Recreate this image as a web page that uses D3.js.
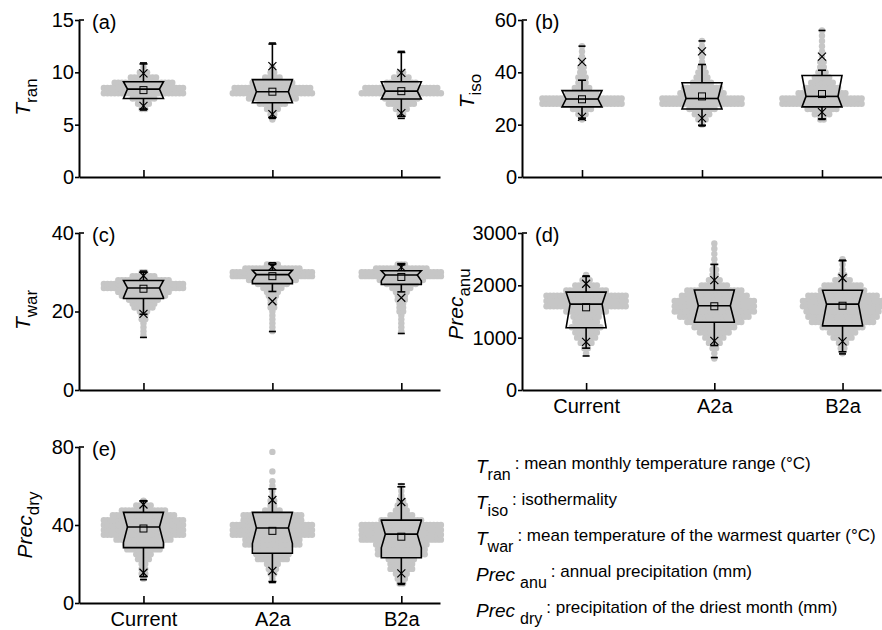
<!DOCTYPE html>
<html>
<head>
<meta charset="utf-8">
<script src="https://cdn.jsdelivr.net/npm/d3@7"></script>
<style>
  body { margin: 0; background: #fff; }
  svg { display: block; font-family: "Liberation Sans", Arial, Helvetica, sans-serif; }
  .axis .domain { stroke: #000; stroke-width: 2; }
  .axis .tick line { stroke: #000; stroke-width: 1.6; }
  .axis text { font-size: 20px; fill: #000; font-family: "Liberation Sans", Arial, Helvetica, sans-serif; }
</style>
</head>
<body>
<svg id="chart" width="882" height="630"></svg>
<script>
var categories = ["Current", "A2a", "B2a"];

// box stats per category:
// [min, whiskerLow, p1, q1, median, q3, p99, whiskerHigh, max, mean, notch half-range]
var tranBoxes = [
  [6.4, 6.5, 6.8, 7.5, 8.4, 9.1, 9.9, 10.8, 10.9, 8.3, 1.0],
  [5.6, 5.7, 6.0, 7.1, 8.15, 9.3, 10.6, 12.7, 12.8, 8.15, 1.2],
  [5.6, 5.8, 6.1, 7.45, 8.2, 9.1, 9.95, 11.9, 12.0, 8.2, 1.0]
];
var isoBoxes = [
  [22, 22.5, 23, 26.8, 29.8, 33, 44, 37, 50, 29.7, 3.5],
  [19.5, 19.8, 22.5, 26, 30, 36, 48, 43, 52, 30.8, 6],
  [22, 22.2, 24.8, 26.8, 30.8, 38.8, 46, 40.8, 56, 31.7, 8]
];
var warBoxes = [
  [13.4, 19.3, 19.4, 23.3, 26, 27.9, 29.1, 30, 30.3, 25.8, 2.5],
  [14.9, 25.1, 22.6, 27.1, 29.4, 30.5, 31.4, 32, 32.4, 29, 1.5],
  [14.4, 25.0, 23.5, 26.9, 29.3, 30.4, 31.3, 31.9, 32.2, 28.8, 1.5]
];
var anuBoxes = [
  [650, 800, 920, 1190, 1640, 1870, 2030, 2170, 2180, 1580, 450],
  [620, 850, 940, 1295, 1610, 1910, 2100, 2400, null, 1600, 300],
  [690, 730, 930, 1225, 1640, 1905, 2140, 2470, 2480, 1610, 400]
];
var dryBoxes = [
  [12, 13.5, 15.5, 28.4, 39, 46.5, 50.5, 52.3, 52.5, 38.2, 8],
  [10.5, 11, 16.5, 25.5, 38.5, 46.5, 52.8, 58.5, null, 37, 8],
  [9.5, 10, 15.2, 23.2, 35.3, 42.5, 51.8, 59.6, 61, 34, 7]
];

// grey point clouds: [value, number of points in that row]
var tranCloud = [
  [[6.5,2],[7,4],[7.5,7],[8,23],[8.5,23],[9,17],[9.5,8],[10,3],[10.5,1]],
  [[5.5,1],[6,2],[6.5,4],[7,8],[7.5,14],[8,23],[8.5,22],[9,12],[9.5,5],[10,2],[10.5,1]],
  [[6,2],[6.5,4],[7,8],[7.5,10],[8,23],[8.5,21],[9,9],[9.5,5],[10,2]]
];
var isoCloud = [
  [[22,1],[24,3],[26,6],[28,23],[30,23],[32,9],[34,5],[36,3],[38,3],[40,2],[42,2],[44,1],[46,1],[48,1],[50,1]],
  [[20,1],[22,3],[24,5],[26,8],[28,23],[30,23],[32,13],[34,11],[36,6],[38,4],[40,3],[42,2],[44,1],[46,1],[48,1],[50,1],[52,1]],
  [[22,2],[24,5],[26,9],[28,23],[30,23],[32,14],[34,10],[36,7],[38,5],[40,3],[42,2],[44,2],[46,1],[48,1],[50,1],[52,1],[54,1],[56,1]]
];
var warCloud = [
  [[14,1],[15,1],[16,1],[17,1],[18,2],[19,2],[20,3],[21,6],[22,7],[23,9],[24,13],[25,15],[26,23],[27,23],[28,15],[29,7],[30,2]],
  [[15,1],[16,1],[17,1],[18,1],[19,1],[20,1],[21,2],[22,2],[23,2],[24,3],[25,4],[26,6],[27,9],[28,14],[29,23],[30,23],[31,16],[32,4]],
  [[15,1],[16,1],[17,1],[18,1],[19,1],[20,2],[21,2],[22,2],[23,3],[24,3],[25,4],[26,6],[27,9],[28,13],[29,23],[30,23],[31,15],[32,3]]
];
var anuCloud = [
  [[700,1],[800,2],[900,4],[1000,6],[1100,7],[1200,9],[1300,7],[1400,8],[1500,12],[1600,23],[1700,23],[1800,23],[1900,12],[2000,7],[2100,3],[2200,1]],
  [[600,1],[700,1],[800,2],[900,4],[1000,6],[1100,9],[1200,12],[1300,16],[1400,20],[1500,23],[1600,23],[1700,23],[1800,19],[1900,16],[2000,8],[2100,4],[2200,2],[2300,2],[2400,1],[2500,1],[2600,1],[2700,1],[2800,1]],
  [[700,1],[800,2],[900,3],[1000,6],[1100,8],[1200,12],[1300,18],[1400,20],[1500,21],[1600,23],[1700,23],[1800,20],[1900,13],[2000,11],[2100,5],[2200,2],[2300,1],[2400,1],[2500,1]]
];
var dryCloud = [
  [[12.5,1],[15,2],[17.5,2],[20,2],[22.5,4],[25,5],[27.5,10],[30,11],[32.5,16],[35,23],[37.5,23],[40,23],[42.5,23],[45,18],[47.5,13],[50,5],[52.5,1]],
  [[12.5,1],[15,2],[17.5,3],[20,4],[22.5,9],[25,10],[27.5,10],[30,16],[32.5,16],[35,23],[37.5,23],[40,23],[42.5,17],[45,17],[47.5,5],[50,2],[52.5,2],[55,1],[57.5,1],[60,1],[62.5,1],[67.5,1],[77.5,1]],
  [[10,2],[12.5,3],[15,4],[17.5,7],[20,7],[22.5,8],[25,14],[27.5,14],[30,15],[32.5,23],[35,23],[37.5,23],[40,23],[42.5,12],[45,7],[47.5,4],[50,3],[52.5,2],[55,1],[57.5,1],[60,1]]
];

var tranTicks = [0, 5, 10, 15];
var isoTicks = [0, 20, 40, 60];
var warTicks = [0, 20, 40];
var anuTicks = [0, 1000, 2000, 3000];
var dryTicks = [0, 40, 80];

var legendItems = [
  {sym: "T", sub: "ran", text: ": mean monthly temperature range (°C)"},
  {sym: "T", sub: "iso", text: ": isothermality"},
  {sym: "T", sub: "war", text: ": mean temperature of the warmest quarter (°C)"},
  {sym: "Prec", sub: "anu", text: ": annual precipitation (mm)"},
  {sym: "Prec", sub: "dry", text: ": precipitation of the driest month (mm)"}
];

var statKeys = ["min","wlo","p1","q1","med","q3","p99","whi","max","mean","notch"];
function toStats(arr) {
  return arr.map(function(r) { var o = {}; statKeys.forEach(function(k, i) { o[k] = r[i]; }); return o; });
}

var panels = [
  {tag: "(a)", sym: "T", sub: "ran", boxes: tranBoxes, cloud: tranCloud, ticks: tranTicks,
   xRange: [79, 440], xDomain: [0.5, 3.3], yRange: [177, 20], labels: false, titleX: 30, titleY: 97},
  {tag: "(b)", sym: "T", sub: "iso", boxes: isoBoxes, cloud: isoCloud, ticks: isoTicks,
   xRange: [522, 882], xDomain: [0.5, 3.5], yRange: [177, 20], labels: false, titleX: 474, titleY: 91},
  {tag: "(c)", sym: "T", sub: "war", boxes: warBoxes, cloud: warCloud, ticks: warTicks,
   xRange: [79, 440], xDomain: [0.5, 3.3], yRange: [390, 233], labels: false, titleX: 30, titleY: 310},
  {tag: "(d)", sym: "Prec", sub: "anu", boxes: anuBoxes, cloud: anuCloud, ticks: anuTicks,
   xRange: [522, 881], xDomain: [0.5, 3.3], yRange: [390, 233], labels: true, titleX: 463, titleY: 304},
  {tag: "(e)", sym: "Prec", sub: "dry", boxes: dryBoxes, cloud: dryCloud, ticks: dryTicks,
   xRange: [79, 440], xDomain: [0.5, 3.3], yRange: [603, 447], labels: true, titleX: 32, titleY: 525}
];

var dotStep = 3.6, dotR = 3.2, dotColor = "#c6c6c6";
var boxHalf = 20, notchIn = 4;

var svg = d3.select("#chart");
svg.append("rect").attr("width", 882).attr("height", 630).attr("fill", "#fff");

function drawPanel(p) {
  var x = d3.scaleLinear().domain(p.xDomain).range(p.xRange);
  var y = d3.scaleLinear().domain([0, p.ticks[p.ticks.length - 1]]).range(p.yRange);
  var g = svg.append("g");

  // grey cloud of points
  var dots = p.cloud.flatMap(function(rows, i) {
    return rows.flatMap(function(r) {
      return d3.range(r[1]).map(function(k) {
        return {cx: x(i + 1) + (k - (r[1] - 1) / 2) * dotStep, cy: y(r[0])};
      });
    });
  });
  g.append("g").selectAll("circle").data(dots).join("circle")
    .attr("cx", d => d.cx).attr("cy", d => d.cy).attr("r", dotR).attr("fill", dotColor);

  // boxes
  var stats = toStats(p.boxes);
  var bg = g.append("g").selectAll("g").data(stats).join("g")
    .attr("stroke", "#000").attr("fill", "none").attr("stroke-width", 1.6);

  bg.each(function(d, i) {
    var s = d3.select(this);
    var cx = x(i + 1);
    var top = y(d.q3), bot = y(d.q1), ym = y(d.med);
    var nt = y(Math.min(d.q3, d.med + d.notch)), nb = y(Math.max(d.q1, d.med - d.notch));
    var L = cx - boxHalf, R = cx + boxHalf;

    // whiskers
    s.append("line").attr("x1", cx).attr("x2", cx).attr("y1", top).attr("y2", y(d.whi));
    s.append("line").attr("x1", cx).attr("x2", cx).attr("y1", bot).attr("y2", y(d.wlo));
    [d.whi, d.wlo].forEach(function(v) {
      s.append("line").attr("x1", cx - 4).attr("x2", cx + 4).attr("y1", y(v)).attr("y2", y(v));
    });
    // min / max dashes
    [d.min, d.max].filter(v => v != null).forEach(function(v) {
      s.append("line").attr("x1", cx - 3.5).attr("x2", cx + 3.5).attr("y1", y(v)).attr("y2", y(v))
        .attr("stroke-width", 1.6);
    });

    // notched box
    s.append("path").attr("d",
      "M" + L + "," + top + "H" + R + "V" + nt + "L" + (R - notchIn) + "," + ym +
      "L" + R + "," + nb + "V" + bot + "H" + L + "V" + nb + "L" + (L + notchIn) + "," + ym +
      "L" + L + "," + nt + "Z");
    s.append("line").attr("x1", L + notchIn).attr("x2", R - notchIn).attr("y1", ym).attr("y2", ym);

    // 1% / 99% crosses
    [d.p1, d.p99].forEach(function(v) {
      var yy = y(v);
      s.append("path").attr("stroke-width", 1.2)
        .attr("d", "M" + (cx - 4) + "," + (yy - 4) + "L" + (cx + 4) + "," + (yy + 4) +
                   "M" + (cx - 4) + "," + (yy + 4) + "L" + (cx + 4) + "," + (yy - 4));
    });

    // mean
    s.append("rect").attr("x", cx - 3.5).attr("y", y(d.mean) - 3.5)
      .attr("width", 7).attr("height", 7).attr("stroke-width", 1);
  });

  // axes
  var x0 = p.xRange[0], y0 = p.yRange[0];
  g.append("g").attr("class", "axis").attr("transform", "translate(0," + y0 + ")")
    .call(d3.axisBottom(x).tickValues([1, 2, 3]).tickSizeInner(-7).tickSizeOuter(0).tickPadding(9)
      .tickFormat(p.labels ? (d => categories[d - 1]) : ""));
  g.append("g").attr("class", "axis").attr("transform", "translate(" + x0 + ",0)")
    .call(d3.axisLeft(y).tickValues(p.ticks).tickSizeInner(4).tickSizeOuter(0).tickPadding(1)
      .tickFormat(d3.format("d")));
  g.append("line").attr("x1", x0).attr("x2", x0 + 5)
    .attr("y1", p.yRange[1]).attr("y2", p.yRange[1]).attr("stroke", "#000").attr("stroke-width", 1.6);

  // panel tag
  g.append("text").attr("x", x0 + 13).attr("y", p.yRange[1] + 9)
    .attr("font-size", 20).text(p.tag);

  // y title
  var t = g.append("text").attr("text-anchor", "middle")
    .attr("transform", "translate(" + p.titleX + "," + p.titleY + ") rotate(-90)");
  t.append("tspan").attr("font-style", "italic").attr("font-size", 21).text(p.sym);
  t.append("tspan").attr("font-size", 17).attr("dy", 7).text(p.sub);
}

panels.forEach(drawPanel);

// legend
var lg = svg.append("g");
legendItems.forEach(function(d, i) {
  var b = 469 + i * 36;
  var t = lg.append("text").attr("x", 476).attr("y", b + 4);
  t.append("tspan").attr("font-style", "italic").attr("font-size", 19).text(d.sym);
  t.append("tspan").attr("font-size", 16).attr("dy", 7).attr("dx", d.sym === "Prec" ? 5 : 0).text(d.sub);
  t.append("tspan").attr("font-size", 17).attr("dy", -11).attr("dx", 4).text(d.text);
});
</script>
</body>
</html>
